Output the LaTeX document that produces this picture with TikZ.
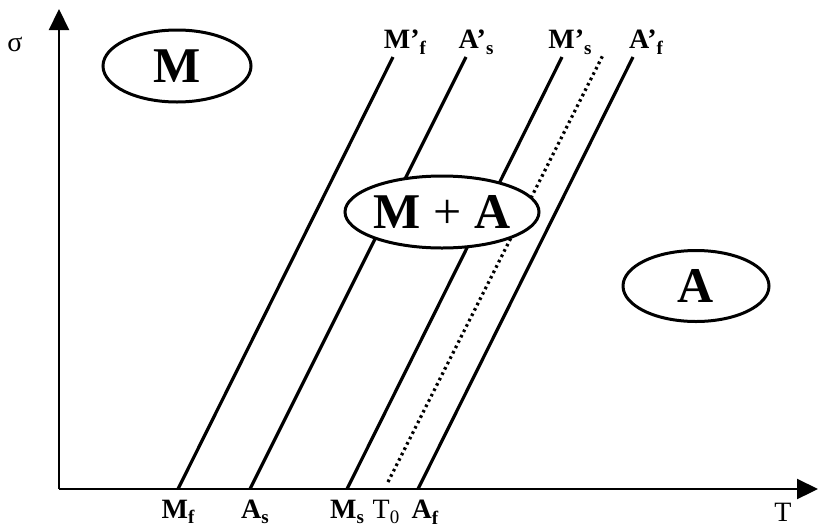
\documentclass[tikz,border=0pt]{standalone}
\usepackage{fontspec}
\setmainfont{Liberation Serif}
\usetikzlibrary{shapes.geometric,arrows.meta}
\newcommand{\sbs}[1]{\raisebox{-0.2em}{\fontsize{19}{19}\selectfont #1}}
\tikzset{
  phase/.style={ellipse,draw,line width=3pt,inner sep=0pt,fill=white,font=\fontsize{50}{50}\selectfont\bfseries},
  trans/.style={line width=3.2pt},
  lab/.style={font=\fontsize{28}{28}\selectfont\bfseries,inner sep=0pt},
  axis/.style={line width=2.2pt,-{Triangle[length=21pt,width=20pt]}}
}
\begin{document}
\begin{tikzpicture}[x=1pt,y=-1pt]
\useasboundingbox (0,0) rectangle (818,528);
\coordinate (O) at (59,489);
\coordinate (yt) at (59,9);
\coordinate (xt) at (818,489);
\draw[axis] (O) -- (yt);
\draw[axis] (O) -- (xt);
\node[font=\fontsize{28}{28}\selectfont,inner sep=0pt] (sig) at (15,44) {σ};
\node[font=\fontsize{28}{28}\selectfont,inner sep=0pt] (T) at (783,512) {T};
% transition lines
\coordinate (mfb) at (178,489); \coordinate (mft) at (393,57);
\coordinate (asb) at (250,489); \coordinate (ast) at (466,57);
\coordinate (msb) at (347,489); \coordinate (mst) at (562,57);
\coordinate (t0b) at (388,482); \coordinate (t0t) at (603,55);
\coordinate (afb) at (418,489); \coordinate (aft) at (633,57);
\draw[trans] (mfb) -- (mft);
\draw[trans] (asb) -- (ast);
\draw[trans] (msb) -- (mst);
\draw[trans] (afb) -- (aft);
\draw[line width=3.2pt,dash pattern=on 2.6pt off 3.4pt] (t0b) -- (t0t);
% phase ellipses
\node[phase,minimum width=148pt,minimum height=72pt] (M) at (177,66) {M};
\node[phase,minimum width=194pt,minimum height=72pt] (MA) at (442,212) {M \textmd{+} A};
\node[phase,minimum width=146pt,minimum height=71pt] (A) at (696,286) {A};
% top labels
\node[lab] (lmf) at (405,42) {M’\sbs{f}};
\node[lab] (las) at (476,42) {A’\sbs{s}};
\node[lab] (lms) at (570,42) {M’\sbs{s}};
\node[lab] (laf) at (646,42) {A’\sbs{f}};
% bottom labels
\node[lab] (bmf) at (178,512) {M\sbs{f}};
\node[lab] (bas) at (255,512) {A\sbs{s}};
\node[lab] (bms) at (347,512) {M\sbs{s}};
\node[font=\fontsize{28}{28}\selectfont,inner sep=0pt] (bt0) at (386,512) {T\sbs{0}};
\node[lab] (baf) at (425,512) {A\sbs{f}};
\end{tikzpicture}
\end{document}
